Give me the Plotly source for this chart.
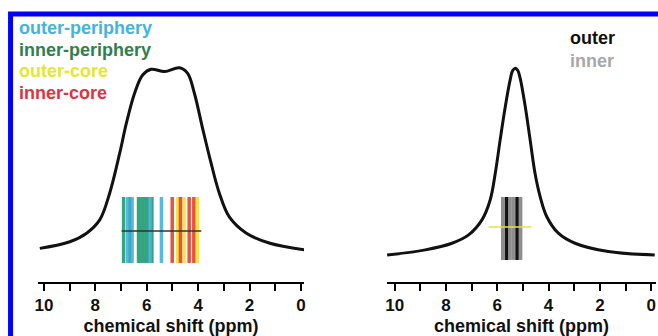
import plotly.graph_objects as go

# ---- spectra (chemical shift in ppm, normalised intensity) ----
left_ppm = [10.16, 8.99, 8.34, 7.83, 7.44, 7.05, 6.79, 6.47, 6.16, 5.83, 5.31,
            4.73, 4.41, 4.15, 3.84, 3.50, 3.18, 2.79, 2.14, 1.24, -0.12]
left_int = [0.157, 0.188, 0.228, 0.290, 0.416, 0.603, 0.743, 0.883, 0.967, 0.994, 0.983,
            1.001, 0.975, 0.883, 0.724, 0.556, 0.416, 0.304, 0.229, 0.182, 0.150]

right_ppm = [10.30, 8.81, 7.77, 7.12, 6.60, 6.28, 6.08, 5.89, 5.69, 5.50, 5.41, 5.30,
             5.20, 5.11, 4.91, 4.72, 4.53, 4.33, 4.07, 3.62, 2.97, 1.67, -0.14]
right_int = [0.126, 0.150, 0.181, 0.220, 0.290, 0.383, 0.508, 0.664, 0.819, 0.944, 0.986, 0.999,
             0.988, 0.952, 0.819, 0.664, 0.508, 0.399, 0.305, 0.228, 0.181, 0.142, 0.126]

# ---- computed shifts per site ----
outer_periphery = [6.74, 6.57, 5.87, 5.43]
inner_periphery = [6.90, 6.66, 6.32, 6.20, 6.09, 5.97, 5.80]
outer_core = [4.80, 4.55, 4.03]
inner_core = [5.01, 4.69, 4.35, 4.17]
outer_sites = [5.64, 5.23]
inner_sites = [5.76, 5.53, 5.33, 5.12]

stick_range = [0.089, 0.397]      # vertical extent of the stick markers
stick_range_r = [0.103, 0.397]
avg_left = {"ppm": [6.98, 3.88], "int": 0.238}
avg_right = {"ppm": [6.34, 4.67], "int": 0.257}

ticks = list(range(0, 11))
tick_text = [str(t) if t % 2 == 0 else "" for t in ticks]

FONT = "Liberation Sans, Arial, sans-serif"
C_OP, C_IP, C_OC, C_IC = "#45B2DF", "#1F9C72", "#F2E234", "#E5412F"
C_OUT, C_IN = "#111111", "#8E8E8E"


def sticks(vals, lo_hi):
    xs, ys = [], []
    for v in vals:
        xs += [v, v, None]
        ys += [lo_hi[0], lo_hi[1], None]
    return xs, ys


fig = go.Figure()

# left panel sticks
for vals, col in [(inner_periphery, C_IP), (outer_periphery, C_OP),
                  (outer_core, C_OC), (inner_core, C_IC)]:
    xs, ys = sticks(vals, stick_range)
    fig.add_trace(go.Scatter(x=xs, y=ys, mode="lines", xaxis="x", yaxis="y",
                             line=dict(color=col, width=3.5), opacity=0.9,
                             hoverinfo="skip", showlegend=False))
fig.add_trace(go.Scatter(x=avg_left["ppm"], y=[avg_left["int"]] * 2, mode="lines",
                         xaxis="x", yaxis="y", line=dict(color="#333333", width=1.5),
                         showlegend=False))
fig.add_trace(go.Scatter(x=left_ppm, y=left_int, mode="lines", xaxis="x", yaxis="y",
                         line=dict(color="#111111", width=3, shape="spline", smoothing=1.0),
                         showlegend=False))

# right panel sticks
xs, ys = sticks(inner_sites, stick_range_r)
fig.add_trace(go.Scatter(x=xs, y=ys, mode="lines", xaxis="x2", yaxis="y",
                         line=dict(color=C_IN, width=5), showlegend=False))
xs, ys = sticks(outer_sites, stick_range_r)
fig.add_trace(go.Scatter(x=xs, y=ys, mode="lines", xaxis="x2", yaxis="y",
                         line=dict(color=C_OUT, width=3), showlegend=False))
fig.add_trace(go.Scatter(x=avg_right["ppm"], y=[avg_right["int"]] * 2, mode="lines",
                         xaxis="x2", yaxis="y", line=dict(color="#E8E040", width=1.5),
                         showlegend=False))
fig.add_trace(go.Scatter(x=right_ppm, y=right_int, mode="lines", xaxis="x2", yaxis="y",
                         line=dict(color="#111111", width=3, shape="spline", smoothing=1.0),
                         showlegend=False))

axis_common = dict(
    tickmode="array", tickvals=ticks, ticktext=tick_text,
    ticks="outside", ticklen=7, tickwidth=2, tickcolor="black",
    showline=True, linewidth=2, linecolor="black", showgrid=False, zeroline=False,
    tickfont=dict(family=FONT, size=17, color="#111111", weight="bold"),
    title=dict(text="chemical shift (ppm)", standoff=5,
               font=dict(family=FONT, size=18, color="#111111", weight="bold")),
    anchor="y",
)

fig.update_layout(
    width=658, height=336,
    margin=dict(l=38, r=0, t=20, b=54),
    paper_bgcolor="white", plot_bgcolor="white",
    xaxis=dict(range=[10.23, -0.12], domain=[0, 0.4306], **axis_common),
    xaxis2=dict(range=[10.31, -0.19], domain=[0.5645, 1], **axis_common),
    yaxis=dict(range=[0, 1.224], visible=False),
)

# frame
fig.add_shape(type="rect", xref="paper", yref="paper",
              x0=-0.0444, x1=1.05, y0=-0.3, y1=1.0229,
              line=dict(color="#0000FF", width=5), layer="above")

# labels
def px_x(px):
    return (px - 38) / 620.0


def px_y(py):
    return (282 - py) / 262.0


labels = [("outer-periphery", C_OP, 17, 28), ("inner-periphery", "#2E8050", 17, 50),
          ("outer-core", "#E6E630", 17, 71), ("inner-core", "#E03340", 17, 93),
          ("outer", C_OUT, 570, 38), ("inner", "#A8A8A8", 570, 61)]
for text, col, x0, y0 in labels:
    fig.add_annotation(text=text, xref="paper", yref="paper", x=px_x(x0), y=px_y(y0),
                       xanchor="left", yanchor="middle", showarrow=False,
                       font=dict(family=FONT, size=18, color=col, weight="bold"))

fig.write_html("out.html")
